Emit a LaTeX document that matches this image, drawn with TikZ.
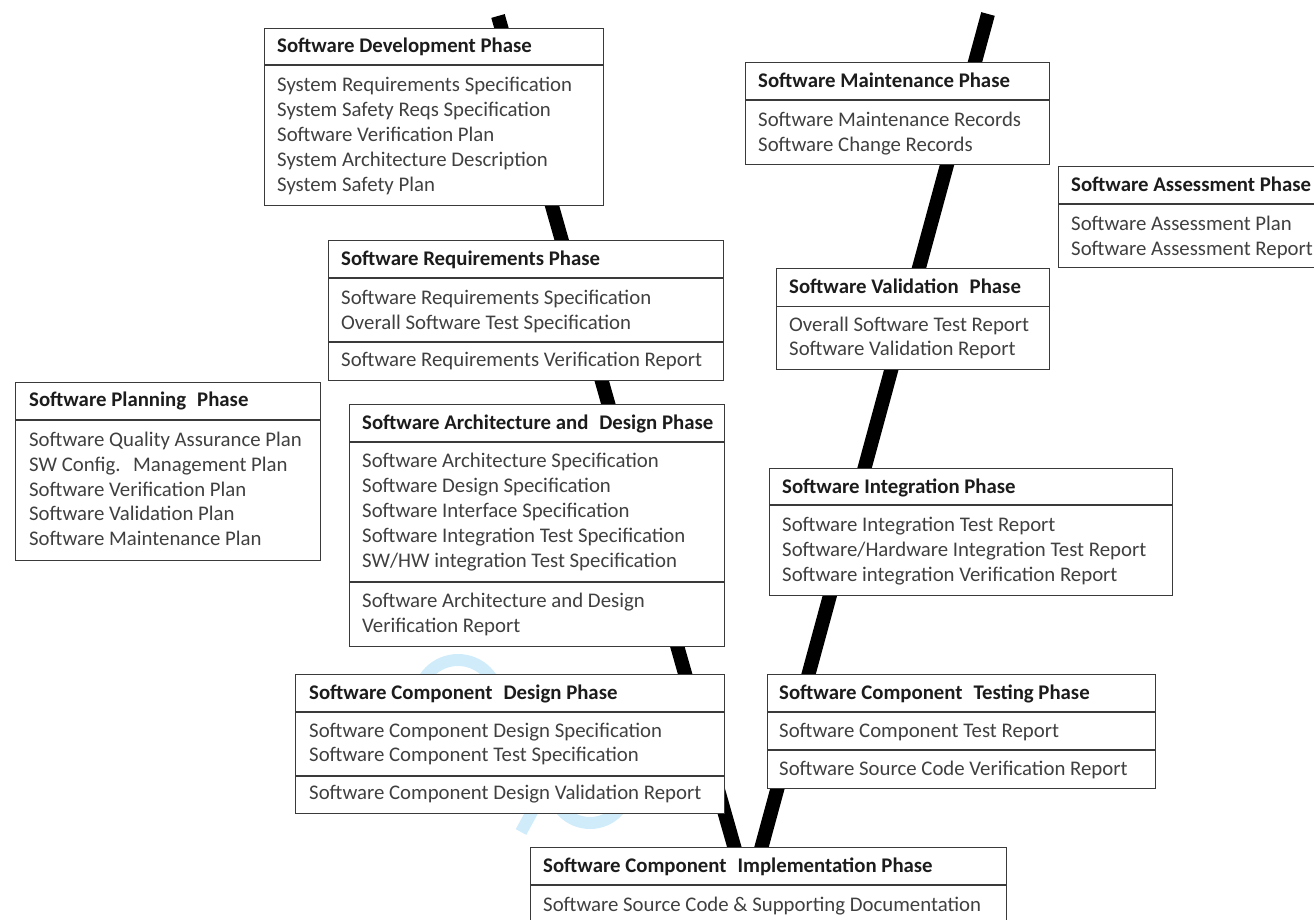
\documentclass[tikz,border=0pt]{standalone}
\usepackage{fontspec}
\setmainfont{Carlito}
\definecolor{boxline}{RGB}{58,58,58}
\definecolor{itemgray}{RGB}{64,64,64}
\definecolor{headgray}{RGB}{28,28,28}
\definecolor{wmark}{RGB}{208,236,251}
\tikzset{
  phasebox/.style={draw=boxline, fill=white, line width=1.3pt, inner sep=0pt, anchor=north west},
  sepline/.style={draw=boxline, line width=1.3pt},
  headtxt/.style={anchor=base west, inner sep=0pt, text=headgray, font=\fontsize{20.8}{25}\selectfont\bfseries},
  itemtxt/.style={anchor=base west, inner sep=0pt, text=itemgray, font=\fontsize{20.8}{25}\selectfont},
  vline/.style={line width=14pt, black},
  wmarkline/.style={line width=12pt, wmark}
}
% a framed phase box from (x1,y1) to (x2,y2), y measured downwards
\newcommand\phasebox[5]{%
  \node[phasebox, minimum width={(#4-#2)*1pt}, minimum height={(#5-#3)*1pt}] (#1) at (#2,#3) {};}
% horizontal divider across a phase box at height y
\newcommand\phasesep[2]{\draw[sepline] (#1.west |- 0,#2) -- (#1.east |- 0,#2);}
% list of document lines, one node per line
\newcommand\phaselines[5]{%
  \foreach \txt [count=\k] in {#5}{\node[itemtxt] (#1-\k) at (#2,{#3+(\k-1)*#4}) {\txt};}}
\newcommand\dsp{\hspace{0.3em}}
\begin{document}
\begin{tikzpicture}[x=1pt, y=-1pt]
\useasboundingbox (0,0) rectangle (1314,920);
\clip (0,0) rectangle (1314,920);

% faint logo behind the boxes
\draw[wmarkline] (458,700) circle (40pt);
\draw[wmarkline] (590,785) circle (38pt);
\draw[wmarkline] (556,768) -- (521,832);

% the V of the life cycle
\coordinate (ltop) at (498,16);
\coordinate (lbot) at (738,860);
\coordinate (rtop) at (988,14);
\coordinate (rbot) at (758,860);
\draw[vline] (ltop) -- (lbot);
\draw[vline] (rtop) -- (rbot);

% Software Development Phase
\phasebox{dev}{264}{28}{603}{205}
\phasesep{dev}{65}
\node[headtxt] (dev-h) at (277,53) {Software Development Phase};
\phaselines{dev}{277}{91.5}{25}{System Requirements Specification,System Safety Reqs Specification,Software Verification Plan,System Architecture Description,System Safety Plan}

% Software Maintenance Phase
\phasebox{mnt}{745}{62}{1049}{164}
\phasesep{mnt}{100}
\node[headtxt] (mnt-h) at (758,88) {Software Maintenance Phase};
\phaselines{mnt}{758}{127}{24.6}{Software Maintenance Records,Software Change Records}

% Software Assessment Phase
\phasebox{asm}{1058}{166}{1340}{267}
\phasesep{asm}{204}
\node[headtxt] (asm-h) at (1071,192) {Software Assessment Phase};
\phaselines{asm}{1071}{230}{25}{Software Assessment Plan,Software Assessment Report}

% Software Requirements Phase
\phasebox{req}{328}{240}{723}{380}
\phasesep{req}{278}
\phasesep{req}{342}
\node[headtxt] (req-h) at (341,265) {Software Requirements Phase};
\phaselines{req}{341}{304}{25}{Software Requirements Specification,Overall Software Test Specification}
\node[itemtxt] (req-v) at (341,366.5) {Software Requirements Verification Report};

% Software Validation Phase
\phasebox{val}{776}{268}{1049}{369}
\phasesep{val}{306.5}
\node[headtxt] (val-h) at (789,293) {Software Validation\dsp{} Phase};
\phaselines{val}{789}{331}{24.5}{Overall Software Test Report,Software Validation Report}

% Software Planning Phase
\phasebox{pln}{15}{382}{320}{560}
\phasesep{pln}{420}
\node[headtxt] (pln-h) at (29,406.5) {Software Planning\dsp{} Phase};
\phaselines{pln}{29}{446.5}{24.75}{Software Quality Assurance Plan,SW Config.\dsp{} Management Plan,Software Verification Plan,Software Validation Plan,Software Maintenance Plan}

% Software Architecture and Design Phase
\phasebox{arc}{349}{404}{724}{646}
\phasesep{arc}{442}
\phasesep{arc}{582}
\node[headtxt] (arc-h) at (362,429.3) {Software Architecture and\dsp{} Design Phase};
\phaselines{arc}{362}{467.3}{25}{Software Architecture Specification,Software Design Specification,Software Interface Specification,Software Integration Test Specification,SW/HW integration Test Specification}
\phaselines{arcv}{362}{607.7}{25}{Software Architecture and Design,Verification Report}

% Software Integration Phase
\phasebox{itg}{769}{468}{1172}{595}
\phasesep{itg}{505}
\node[headtxt] (itg-h) at (782,493.3) {Software Integration Phase};
\phaselines{itg}{782}{531.7}{24.9}{Software Integration Test Report,Software/Hardware Integration Test Report,Software integration Verification Report}

% Software Component Design Phase
\phasebox{cdp}{295}{674}{724}{813}
\phasesep{cdp}{712}
\phasesep{cdp}{776}
\node[headtxt] (cdp-h) at (309,699.3) {Software Component\dsp{} Design Phase};
\phaselines{cdp}{309}{737.3}{24.4}{Software Component Design Specification,Software Component Test Specification}
\node[itemtxt] (cdp-v) at (309,799.3) {Software Component Design Validation Report};

% Software Component Testing Phase
\phasebox{ctp}{767}{674}{1155}{788}
\phasesep{ctp}{712}
\phasesep{ctp}{750}
\node[headtxt] (ctp-h) at (779,699.3) {Software Component\dsp{} Testing Phase};
\node[itemtxt] (ctp-1) at (779,737.3) {Software Component Test Report};
\node[itemtxt] (ctp-2) at (779,775) {Software Source Code Verification Report};

% Software Component Implementation Phase
\phasebox{imp}{530}{847}{1006}{940}
\phasesep{imp}{885}
\node[headtxt] (imp-h) at (543,872.5) {Software Component\dsp{} Implementation Phase};
\node[itemtxt] (imp-1) at (543,911) {Software Source Code \& Supporting Documentation};
\end{tikzpicture}
\end{document}
